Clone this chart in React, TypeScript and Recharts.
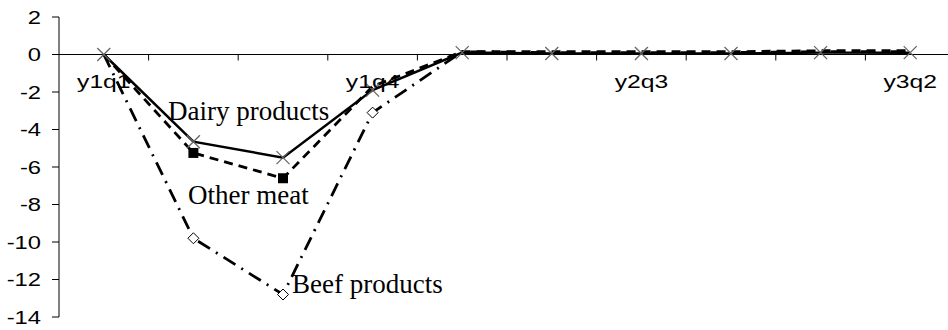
import { LineChart, Line, XAxis, YAxis, ReferenceLine } from 'recharts'

const quarters = ['y1q1', 'y1q2', 'y1q3', 'y1q4', 'y2q1', 'y2q2', 'y2q3', 'y2q4', 'y3q1', 'y3q2']
const dairy = [0, -4.65, -5.5, -1.9, 0.1, 0.05, 0.05, 0.05, 0.1, 0.1]
const otherMeat = [0, -5.25, -6.6, -1.7, 0.15, 0.15, 0.15, 0.15, 0.2, 0.2]
const beef = [0, -9.8, -12.8, -3.1, 0.15, 0.1, 0.1, 0.1, 0.15, 0.15]
const yTicks = [2, 0, -2, -4, -6, -8, -10, -12, -14]
const labelTicks = [0, 3, 6, 9]
const boundaryTicks = [0.5, 1.5, 2.5, 3.5, 4.5, 5.5, 6.5, 7.5, 8.5]

const data = quarters.map((q, i) => ({
  idx: i,
  q,
  dairy: dairy[i],
  otherMeat: otherMeat[i],
  beef: beef[i]
}))

const W = 948
const H = 330
const TOP = 17
const BOTTOM = 13
const PLOT_H = H - TOP - BOTTOM
const zeroY = TOP + (PLOT_H * 2) / 16

const sans = '"Liberation Sans", Arial, sans-serif'
const serif = '"Liberation Serif", "Times New Roman", serif'

const CrossDot = (props: any) => {
  const { cx, cy, index } = props
  if (cx == null || cy == null) return <g key={`d${index}`} />
  const s = 6.5
  return (
    <g key={`d${index}`} stroke="#666" strokeWidth={1.3}>
      <line x1={cx - s} y1={cy - s} x2={cx + s} y2={cy + s} />
      <line x1={cx - s} y1={cy + s} x2={cx + s} y2={cy - s} />
    </g>
  )
}

const SquareDot = (props: any) => {
  const { cx, cy, index, value } = props
  if (cx == null || value > -2) return <g key={`s${index}`} />
  return <rect key={`s${index}`} x={cx - 5} y={cy - 5} width={10} height={10} fill="#000" />
}

const DiamondDot = (props: any) => {
  const { cx, cy, index, value } = props
  if (cx == null || value > -2) return <g key={`b${index}`} />
  const s = 5.5
  return (
    <path
      key={`b${index}`}
      d={`M${cx},${cy - s} L${cx + s},${cy} L${cx},${cy + s} L${cx - s},${cy} Z`}
      fill="#fff"
      stroke="#000"
      strokeWidth={1}
    />
  )
}

// the source's axis text is a bit wider than Arial, so stretch it
const QuarterTick = (props: any) => {
  const { x, payload } = props
  return (
    <g transform={`translate(${x},${zeroY + 33}) scale(1.3,1)`}>
      <text x={0} y={0} textAnchor="middle" fontFamily={sans} fontSize={19} fill="#000">
        {quarters[payload.value]}
      </text>
    </g>
  )
}

const BoundaryTick = (props: any) => {
  const { x } = props
  return <line x1={x} x2={x} y1={zeroY} y2={zeroY + 6} stroke="#000" strokeWidth={1} />
}

const ValueTick = (props: any) => {
  const { x, y, payload } = props
  return (
    <g transform={`translate(${x - 9},${y + 6.5}) scale(1.25,1)`}>
      <text x={0} y={0} textAnchor="end" fontFamily={sans} fontSize={19} fill="#000">
        {payload.value}
      </text>
    </g>
  )
}

export default function App() {
  return (
    <div style={{ position: 'absolute', left: 0, top: 0, width: W, height: H, background: '#fff', overflow: 'hidden' }}>
      <LineChart width={W} height={H} data={data} margin={{ top: TOP, right: -7, bottom: BOTTOM - 2, left: 0 }}>
        <XAxis
          type="number"
          dataKey="idx"
          domain={[-0.5, 9.5]}
          ticks={labelTicks}
          interval={0}
          axisLine={false}
          tickLine={false}
          height={1}
          tick={QuarterTick}
        />
        <XAxis
          xAxisId="b"
          type="number"
          dataKey="idx"
          domain={[-0.5, 9.5]}
          ticks={boundaryTicks}
          interval={0}
          axisLine={false}
          tickLine={false}
          height={1}
          tick={BoundaryTick}
        />
        <YAxis
          type="number"
          domain={[-14, 2]}
          ticks={yTicks}
          width={59}
          axisLine={{ stroke: '#000' }}
          tickLine={{ stroke: '#000' }}
          tickSize={7}
          tick={ValueTick}
          interval={0}
        />
        <ReferenceLine y={0} stroke="#000" strokeWidth={1} />
        <Line
          dataKey="beef"
          stroke="#000"
          strokeWidth={2.8}
          strokeDasharray="14 7 2 7"
          dot={DiamondDot}
          isAnimationActive={false}
        />
        <Line
          dataKey="otherMeat"
          stroke="#000"
          strokeWidth={2.8}
          strokeDasharray="9 6"
          dot={SquareDot}
          isAnimationActive={false}
        />
        <Line
          dataKey="dairy"
          stroke="#000"
          strokeWidth={2.5}
          dot={CrossDot}
          isAnimationActive={false}
        />
      </LineChart>
      <svg width={W} height={H} style={{ position: 'absolute', left: 0, top: 0, pointerEvents: 'none' }}>
        <g fontFamily={serif} fontSize={27} fill="#000">
          <text x={168} y={120}>Dairy products</text>
          <text x={188} y={204}>Other meat</text>
          <text x={292} y={293}>Beef products</text>
        </g>
      </svg>
    </div>
  )
}
